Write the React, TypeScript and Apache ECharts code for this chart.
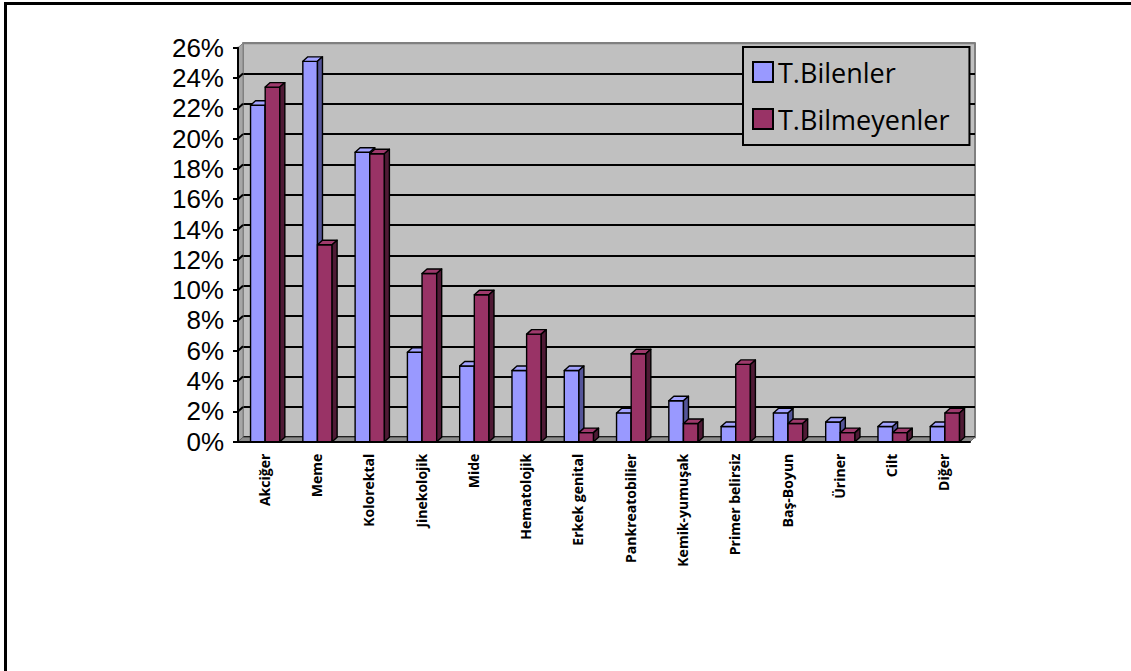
import React, { useEffect, useRef } from "react";
import * as echarts from "echarts";

// Kanser türlerine göre dağılım (%)
const categories = [
  "Akciğer",
  "Meme",
  "Kolorektal",
  "Jinekolojik",
  "Mide",
  "Hematolojik",
  "Erkek genital",
  "Pankreatobilier",
  "Kemik-yumuşak",
  "Primer belirsiz",
  "Baş-Boyun",
  "Üriner",
  "Cilt",
  "Diğer",
];
const seriesNames = ["T.Bilenler", "T.Bilmeyenler"];
const bilenler = [22.2, 25.1, 19.1, 5.9, 5.0, 4.7, 4.7, 1.9, 2.7, 1.0, 1.9, 1.3, 1.0, 1.0];
const bilmeyenler = [23.4, 13.0, 19.0, 11.1, 9.7, 7.1, 0.6, 5.8, 1.2, 5.1, 1.2, 0.6, 0.6, 1.9];
const yMin = 0;
const yMax = 26;
const yStep = 2;

// 3B görünüm için derinlik kaydırması (piksel)
const DX = 5;
const DY = -4.5;
const FONT = "'Open Sans', 'Noto Sans', sans-serif";
const AXIS_FONT = "'Liberation Sans', Arial, sans-serif";

const faceColors = [
  { front: "#9999FF", top: "#A3A3FF", side: "#55559A" },
  { front: "#993366", top: "#9E3A6C", side: "#4F1A35" },
];

function barRenderer(seriesIdx: number) {
  return (params: any, api: any) => {
    const idx = api.value(0);
    const v = api.value(1);
    const [cx, yTop] = api.coord([idx, v]);
    const yBase = api.coord([idx, 0])[1];
    const bw = api.size([1, 0])[0];
    const barW = bw * 0.28;
    const left = cx - bw * 0.26 + seriesIdx * barW;
    const right = left + barW;
    const c = faceColors[seriesIdx];
    const stroke = { stroke: "#000", lineWidth: 1.4, lineJoin: "round" };
    return {
      type: "group",
      children: [
        {
          type: "rect",
          shape: { x: left, y: yTop, width: barW, height: yBase - yTop },
          style: { fill: c.front, ...stroke },
        },
        {
          type: "polygon",
          shape: {
            points: [
              [left, yTop],
              [right, yTop],
              [right + DX, yTop + DY],
              [left + DX, yTop + DY],
            ],
          },
          style: { fill: c.top, ...stroke },
        },
        {
          type: "polygon",
          shape: {
            points: [
              [right, yTop],
              [right, yBase],
              [right + DX, yBase + DY],
              [right + DX, yTop + DY],
            ],
          },
          style: { fill: c.side, ...stroke },
        },
      ],
    };
  };
}

function wallRenderer(params: any, api: any) {
  const bw = api.size([1, 0])[0];
  const c0 = api.coord([0, yMin]);
  const x0 = c0[0] - bw / 2;
  const x1 = x0 + bw * categories.length;
  const yBase = c0[1];
  const yTop = api.coord([0, yMax])[1];
  const children: any[] = [
    {
      type: "polygon",
      shape: {
        points: [
          [x0, yTop],
          [x0, yBase],
          [x0 + DX, yBase + DY],
          [x0 + DX, yTop + DY],
        ],
      },
      style: { fill: "#A6A6A6", stroke: "#808080", lineWidth: 1 },
    },
    {
      type: "polygon",
      shape: {
        points: [
          [x0, yBase],
          [x1, yBase],
          [x1 + DX, yBase + DY],
          [x0 + DX, yBase + DY],
        ],
      },
      style: { fill: "#8C8C8C", stroke: "#666666", lineWidth: 1 },
    },
  ];
  for (let t = yMin + yStep; t < yMax; t += yStep) {
    const y = api.coord([0, t])[1];
    children.push({
      type: "line",
      shape: { x1: x0, y1: y, x2: x0 + DX, y2: y + DY },
      style: { stroke: "#000", lineWidth: 2 },
    });
  }
  return { type: "group", children };
}

export default function App() {
  const ref = useRef<HTMLDivElement>(null);

  useEffect(() => {
    if (!ref.current) return;
    const chart = echarts.init(ref.current, null, { renderer: "svg" });
    const lineCount = (yMax - yMin) / yStep + 1;
    const splitColors = Array.from({ length: lineCount }, (_, i) =>
      i === lineCount - 1 ? "#808080" : "#000000"
    );

    chart.setOption({
      animation: false,
      textStyle: { fontFamily: FONT },
      grid: [
        { left: 238, right: 161, top: 47.7, bottom: 229.3 },
        {
          left: 238 + DX,
          right: 161 - DX,
          top: 47.7 + DY,
          bottom: 229.3 - DY,
          show: true,
          backgroundColor: "#C0C0C0",
          borderColor: "#808080",
          borderWidth: 2,
        },
      ],
      xAxis: [
        {
          type: "category",
          gridIndex: 0,
          data: categories,
          axisLine: { lineStyle: { color: "#000", width: 2 } },
          axisTick: { length: 7, lineStyle: { color: "#000", width: 2 } },
          axisLabel: {
            interval: 0,
            rotate: 90,
            margin: 12,
            color: "#000",
            fontSize: 14,
            fontWeight: "bold",
            fontFamily: FONT,
          },
          z: 5,
        },
        { type: "category", gridIndex: 1, data: categories, show: false },
      ],
      yAxis: [
        {
          type: "value",
          gridIndex: 0,
          min: yMin,
          max: yMax,
          interval: yStep,
          axisLine: { show: true, lineStyle: { color: "#000", width: 2 } },
          axisTick: { show: true, length: 5, lineStyle: { color: "#000", width: 2 } },
          axisLabel: {
            formatter: "{value}%",
            color: "#000",
            fontSize: 26,
            lineHeight: 26,
            margin: 14,
            fontFamily: AXIS_FONT,
          },
          splitLine: { show: false },
          z: 5,
        },
        {
          type: "value",
          gridIndex: 1,
          min: yMin,
          max: yMax,
          interval: yStep,
          axisLine: { show: false },
          axisTick: { show: false },
          axisLabel: { show: false },
          splitLine: { show: true, lineStyle: { color: splitColors, width: 2 } },
        },
      ],
      legend: {
        data: seriesNames,
        orient: "vertical",
        left: 743,
        top: 47,
        icon: "rect",
        itemWidth: 20,
        itemHeight: 20,
        itemGap: 17,
        padding: [10, 20, 11, 9],
        backgroundColor: "#C0C0C0",
        borderColor: "#000",
        borderWidth: 2,
        itemStyle: { borderColor: "#000", borderWidth: 2 },
        textStyle: { color: "#000", fontSize: 27, lineHeight: 30, fontFamily: FONT },
        z: 10,
      },
      series: [
        {
          type: "custom",
          name: "walls",
          xAxisIndex: 0,
          yAxisIndex: 0,
          data: [[0, 0]],
          renderItem: wallRenderer,
          clip: false,
          silent: true,
          z: 1,
        },
        {
          type: "custom",
          name: seriesNames[0],
          xAxisIndex: 0,
          yAxisIndex: 0,
          data: bilenler.map((v, i) => [i, v]),
          encode: { x: 0, y: 1 },
          itemStyle: { color: faceColors[0].front },
          renderItem: barRenderer(0),
          clip: false,
          z: 2,
        },
        {
          type: "custom",
          name: seriesNames[1],
          xAxisIndex: 0,
          yAxisIndex: 0,
          data: bilmeyenler.map((v, i) => [i, v]),
          encode: { x: 0, y: 1 },
          itemStyle: { color: faceColors[1].front },
          renderItem: barRenderer(1),
          clip: false,
          z: 2,
        },
      ],
    });

    return () => chart.dispose();
  }, []);

  return (
    <div style={{ position: "absolute", left: 0, top: 0, width: 1131, height: 671, background: "#fff" }}>
      <div ref={ref} style={{ position: "absolute", left: 0, top: 0, width: 1131, height: 671 }} />
      <div
        style={{
          position: "absolute",
          left: 4,
          top: 2,
          width: 1131,
          height: 671,
          borderTop: "3px solid #000",
          borderLeft: "3px solid #000",
          pointerEvents: "none",
        }}
      />
    </div>
  );
}
